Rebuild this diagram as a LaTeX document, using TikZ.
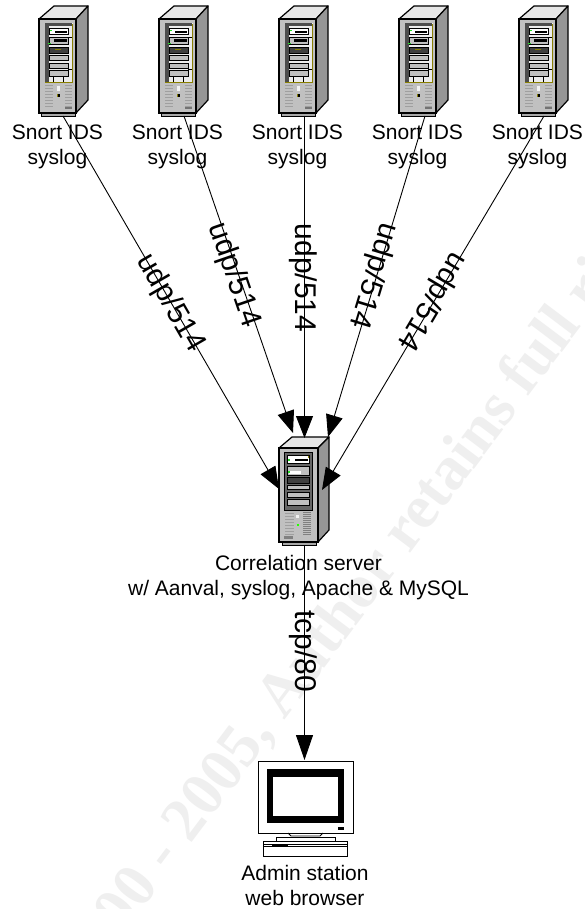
\documentclass[tikz,border=0pt]{standalone}
\usepackage{fontspec}
\setmainfont{Liberation Sans}
\newfontfamily\wmfont{Liberation Serif}[BoldFont={Liberation Serif Bold}]
\usetikzlibrary{arrows.meta}
\definecolor{srvfront}{HTML}{C0C0C0}
\definecolor{srvtop}{HTML}{E6E6E6}
\definecolor{srvside}{HTML}{969696}
\definecolor{srvbase}{HTML}{A8A8A8}
\definecolor{olive}{HTML}{8A8000}
\definecolor{led}{HTML}{22DD22}
\definecolor{wm}{HTML}{EFEFEF}
\tikzset{
  lab/.style={font=\fontsize{21}{25}\selectfont,align=center,inner sep=0pt,anchor=base},
  linklab/.style={font=\fontsize{30}{30}\selectfont,inner sep=0pt,anchor=base},
  link/.style={line width=0.9pt,-{Triangle[length=22pt,width=17pt]}},
  bay/.style={fill=srvfront,draw=black,line width=0.8pt},
  vent/.style={draw=gray!75,line width=0.7pt},
  srvA/.pic={
    \fill[srvbase,draw=black,line width=0.9pt] (2,94) rectangle (36,97);
    \filldraw[fill=srvtop,draw=black,line width=1.2pt,line join=round] (0,0) -- (15,-13) -- (49,-13) -- (37,0) -- cycle;
    \filldraw[fill=srvside,draw=black,line width=1.2pt,line join=round] (37,0) -- (49,-13) -- (49,81) -- (37,94) -- cycle;
    \filldraw[fill=srvfront,draw=black,line width=1.2pt] (0,0) rectangle (37,94);
    \fill[white!85!gray] (5.5,4.5) rectangle (33.5,63.5);
    \draw[olive,line width=0.9pt] (33.5,5) -- (33.5,63.5) -- (5.5,63.5);
    \fill[black!70] (5.5,4.5) rectangle (9.5,63);
    \fill[black!70] (5.5,4.5) rectangle (33,7.5);
    \filldraw[fill=white,draw=black,line width=0.8pt] (10,9) rectangle (29,15);
    \fill[black] (16,12) rectangle (28,14.5);
    \fill[led] (10.5,11) rectangle (13,12.5);
    \filldraw[fill=srvfront,draw=black,line width=0.8pt] (10,18.5) rectangle (29,25.5);
    \fill[black] (15,20) rectangle (28,23);
    \fill[led] (9,24) rectangle (12,25.5);
    \filldraw[fill=black!75,draw=black,line width=0.8pt] (10,28) rectangle (29,34);
    \fill[olive] (16,30) rectangle (22,31.5);
    \draw[bay] (10,36) rectangle (29,41.5);
    \draw[bay] (10,44) rectangle (29,49);
    \draw[bay] (10,51.5) rectangle (29,57);
    \draw[black,line width=0.8pt] (14,57) -- (14,63) (24,57) -- (24,63);
    \draw[black,line width=0.8pt] (29,18) -- (33,18) (29,50) -- (33,50);
    \foreach \yy in {66,69,...,87}{
      \draw[vent] (6,\yy) -- (14,\yy);
      \draw[vent] (26,\yy) -- (33,\yy);
    }
    \fill[white!90!gray] (18,67) rectangle (21,72);
    \fill[black] (18,75) rectangle (20.5,78);
    \fill[olive] (18,75) rectangle (18.8,78);
    \fill[black!55] (26,88) rectangle (33,90.5);
  },
  srvB/.pic={
    \fill[srvbase,draw=black,line width=0.9pt] (3,94) rectangle (37,97);
    \filldraw[fill=srvtop,draw=black,line width=1.2pt,line join=round] (0,0) -- (13,-11) -- (50,-11) -- (39,0) -- cycle;
    \filldraw[fill=srvside,draw=black,line width=1.2pt,line join=round] (39,0) -- (50,-11) -- (50,82) -- (39,94) -- cycle;
    \filldraw[fill=srvfront,draw=black,line width=1.2pt] (0,0) rectangle (39,94);
    \filldraw[fill=black!60,draw=black,line width=0.9pt] (5.5,4.5) rectangle (33,62);
    \filldraw[fill=white,draw=black,line width=0.8pt] (8,7.5) rectangle (30.5,15);
    \fill[black] (16,10.5) rectangle (29,12.5);
    \fill[led] (8.5,10.5) rectangle (11,13);
    \fill[olive] (28.5,7.5) rectangle (30,10);
    \filldraw[fill=srvfront,draw=black,line width=0.8pt] (8,18.5) rectangle (30.5,27.5);
    \fill[white] (10,23) rectangle (22,26);
    \fill[led] (8.5,22.5) rectangle (11,25);
    \filldraw[fill=black!75,draw=black,line width=0.8pt] (8,29) rectangle (30.5,35);
    \draw[bay] (8,37.5) rectangle (30.5,41.5);
    \draw[bay] (8,44) rectangle (30.5,49);
    \draw[bay] (8,51) rectangle (30.5,57);
    \foreach \yy in {65,68,...,86}{
      \draw[vent] (6,\yy) -- (15,\yy);
    }
    \foreach \yy in {64,66,...,86}{
      \draw[black!50,line width=0.9pt] (24,\yy) -- (32,\yy);
    }
    \fill[white!90!gray] (17,67) rectangle (20,70);
    \fill[green!85!yellow] (17.5,75.5) rectangle (20,78);
    \fill[black!50] (5,88) rectangle (14,91);
  },
  monitor/.pic={
    \filldraw[fill=white,draw=black,line width=0.9pt] (258,761) rectangle (353,833);
    \fill[black] (267,769) rectangle (344,823);
    \fill[white] (273,777) rectangle (338,816);
    \fill[black] (338,827) rectangle (344,829.5);
    \draw[black,line width=0.9pt] (288,833) -- (291,836) -- (320,836) -- (323,833);
    \draw[black,line width=0.9pt] (276,841) -- (276,837.5) -- (335,837.5) -- (335,841);
    \filldraw[fill=white,draw=black,line width=0.9pt] (263,841) rectangle (347,856);
    \draw[black,line width=0.9pt] (263,844.5) -- (347,844.5);
    \draw[black,line width=0.7pt] (263,846.5) -- (347,846.5);
    \fill[black] (272,844) rectangle (288,847);
  }
}
\begin{document}
\begin{tikzpicture}[x=1pt,y=-1pt]
\useasboundingbox (0,0) rectangle (585,909);
\fill[white] (0,0) rectangle (585,909);
\begin{scope}
  \clip (0,0) rectangle (585,909);
  \node[rotate=53,anchor=base west,inner sep=0pt,text=wm,font=\wmfont\bfseries\fontsize{62}{62}\selectfont] (mark) at (85,985) {2000 - 2005, Author retains full rights};
\end{scope}
% servers
\foreach \n/\xx in {1/39,2/159,3/279,4/399,5/519}{
  \pic at (\xx,19) {srvA};
}
\pic at (279,448) {srvB};
\pic at (0,0) {monitor};
% connector ends
\coordinate (s1) at (63,116);
\coordinate (s2) at (184,116);
\coordinate (s3) at (304.5,116);
\coordinate (s4) at (425,116);
\coordinate (s5) at (544,116);
\coordinate (t1) at (279,489);
\coordinate (t2) at (293,433);
\coordinate (t3) at (304.5,438);
\coordinate (t4) at (328,437);
\coordinate (t5) at (322,490);
\coordinate (c) at (304.5,545);
\coordinate (m) at (304.5,760);
\draw[link] (s1) -- (t1);
\draw[link] (s2) -- (t2);
\draw[link] (s3) -- (t3);
\draw[link] (s4) -- (t4);
\draw[link] (s5) -- (t5);
\draw[link,-{Triangle[length=25pt,width=17pt]}] (c) -- (m);
% link labels
\node[linklab,rotate=-60] (l1) at (163.5,307.5) {udp/514};
\node[linklab,rotate=-71] (l2) at (226.6,277.6) {udp/514};
\node[linklab,rotate=-90] (l3) at (295,278) {udp/514};
\node[linklab,rotate=-106.8] (l4) at (365.5,273.8) {udp/514};
\node[linklab,rotate=-120.7] (l5) at (424.5,297.4) {udp/514};
\node[linklab,rotate=-90] (l6) at (295,651) {tcp/80};
% host labels
\foreach \n/\xx in {1/57.5,2/177.5,3/297.5,4/417.5,5/537.5}{
  \node[lab] (h\n) at (\xx,165) {Snort IDS\\syslog};
}
\node[lab] (corr) at (298.5,595) {Correlation server\\w/ Aanval, syslog, Apache \& MySQL};
\node[lab] (adm) at (305,905) {Admin station\\web browser};
\end{tikzpicture}
\end{document}
